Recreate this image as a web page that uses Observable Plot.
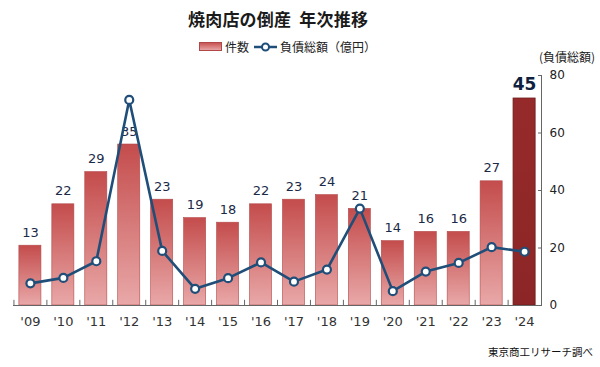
<!DOCTYPE html>
<html><head><meta charset="utf-8">
<script src="https://cdn.jsdelivr.net/npm/d3@7"></script>
<script src="https://cdn.jsdelivr.net/npm/@observablehq/plot@0.6"></script>
<style>
body{margin:0;background:#fff;font-family:"Noto Sans CJK JP",sans-serif;}
#wrap{position:relative;width:600px;height:367px;overflow:hidden;}
#chart{position:absolute;left:0;top:0;}
#title{position:absolute;left:188px;top:6px;font-size:17px;font-weight:bold;color:#1a1a1a;white-space:nowrap;letter-spacing:0.2px;}
#legend{position:absolute;left:199px;top:38px;font-size:12px;color:#222;white-space:nowrap;display:flex;align-items:center;}
#legend .sw{display:inline-block;width:21px;height:7px;background:linear-gradient(#c85454,#e7a3a3);border:0.5px solid #b04848;margin-right:3px;}
#legend svg{margin:0 3px 0 5px;}
#ylab{position:absolute;left:539px;top:48px;font-size:12px;color:#222;white-space:nowrap;}
#caption{position:absolute;left:488px;top:344px;font-size:10.5px;color:#111;white-space:nowrap;}
</style></head><body>
<div id="wrap">
<div id="chart"></div>
<div id="title">焼肉店の倒産&nbsp;&nbsp;年次推移</div>
<div id="legend"><span class="sw"></span><span>件数</span><svg width="23" height="10"><line x1="0" y1="5" x2="23" y2="5" stroke="#1f4e79" stroke-width="2.5"/><circle cx="11.5" cy="5" r="3.5" fill="#fff" stroke="#1f4e79" stroke-width="2"/></svg><span>負債総額（億円）</span></div>
<div id="ylab">(負債総額)</div>
<div id="caption">東京商工リサーチ調べ</div>
</div>
<script>
const years = ["'09","'10","'11","'12","'13","'14","'15","'16","'17","'18","'19","'20","'21","'22","'23","'24"];
const counts = [13,22,29,35,23,19,18,22,23,24,21,14,16,16,27,45];
const debt = [7.7,9.6,15.4,71.5,19.0,5.8,9.5,15.0,8.3,12.5,33.7,5.0,11.8,14.8,20.3,18.7];
const debtTicks = [0,20,40,60,80];
const countMax = 50, debtMax = 80;

const data = years.map((year, i) => ({year, count: counts[i], debt: debt[i], countY: counts[i] * debtMax / countMax}));
const past = data.slice(0, -1);
const latest = data.slice(-1);
const numFont = "DejaVu Sans";

const svg = Plot.plot({
  width: 600,
  height: 340,
  marginTop: 75,
  marginBottom: 35,
  marginLeft: 13,
  marginRight: 59,
  style: {background: "transparent", fontFamily: numFont},
  x: {domain: years, padding: 0.33, range: [8, 546], round: false, label: null},
  y: {domain: [0, debtMax], label: null},
  marks: [
    Plot.barY(past, {x: "year", y: "countY", fill: "url(#gBar)", stroke: "#b34a4a", strokeWidth: 0.6}),
    Plot.barY(latest, {x: "year", y: "countY", fill: "url(#gBar2)", stroke: "#6e1c1c", strokeWidth: 0.8}),
    Plot.ruleY([0], {stroke: "#666", strokeWidth: 1}),
    Plot.ruleX(years, {x: d => d, y1: 0, y2: 1.8, dx: -16.47, stroke: "#666"}),
    Plot.frame({anchor: "right", stroke: "#666"}),
    Plot.axisY(debtTicks, {anchor: "right", tickSize: 4, dx: -4, tickFormat: () => "", label: null, stroke: "#666"}),
    Plot.axisY(debtTicks, {anchor: "right", tickSize: 0, tickPadding: 8, label: null, fontSize: 12, fill: "#222"}),
    Plot.axisX({tickSize: 0, tickPadding: 11, label: null, fontSize: 13, fill: "#333"}),
    Plot.text(past, {x: "year", y: "countY", text: d => String(d.count), dy: -13, fontSize: 13, fill: "#1b2a47"}),
    Plot.text(latest, {x: "year", y: "countY", text: d => String(d.count), dy: -14, fontSize: 17, fontWeight: "bold", fill: "#0f1f40"}),
    Plot.line(data, {x: "year", y: "debt", stroke: "#1f4e79", strokeWidth: 2.6}),
    Plot.dot(data, {x: "year", y: "debt", r: 4, fill: "#fff", stroke: "#1f4e79", strokeWidth: 2.2})
  ]
});

d3.select(svg).insert("defs", ":first-child").html(`
  <linearGradient id="gBar" x1="0" y1="0" x2="0" y2="1">
    <stop offset="0" stop-color="#c44c4c"/>
    <stop offset="1" stop-color="#e9a8a8"/>
  </linearGradient>
  <linearGradient id="gBar2" x1="0" y1="0" x2="0" y2="1">
    <stop offset="0" stop-color="#962a2a"/>
    <stop offset="1" stop-color="#8c2626"/>
  </linearGradient>`);
document.getElementById("chart").appendChild(svg);
</script>
</body></html>
